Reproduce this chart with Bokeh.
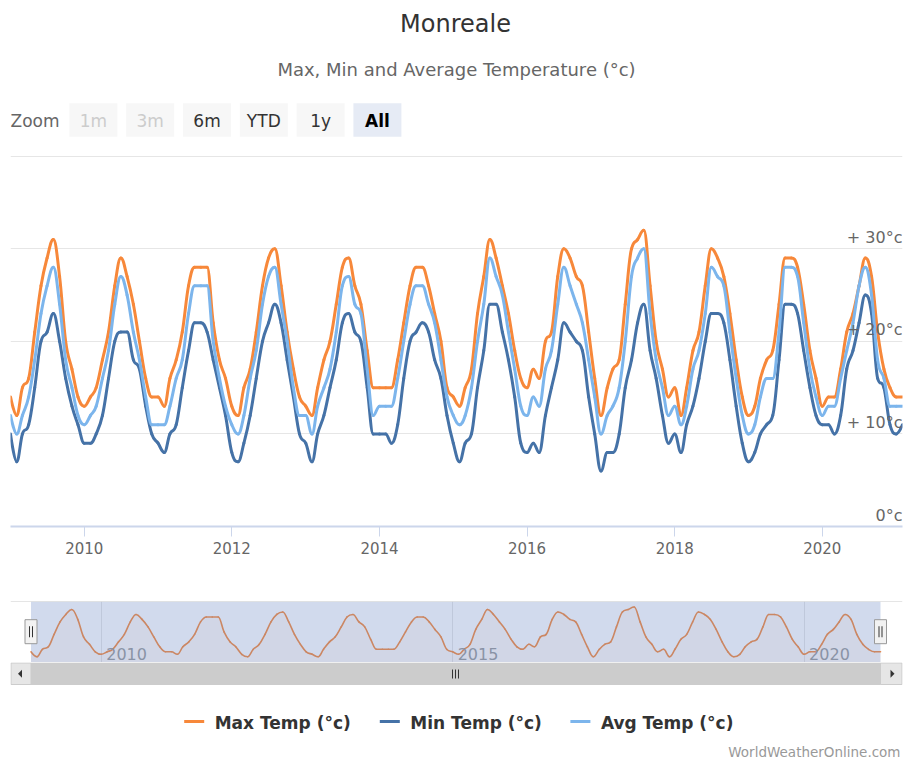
import numpy as np
import pandas as pd
from bokeh.plotting import figure
from bokeh.layouts import column
from bokeh.models import Range1d, FixedTicker, DatetimeTickFormatter, Grid, Span, ColumnDataSource
from bokeh.core.properties import value
from bokeh.embed import file_html
from bokeh.resources import INLINE

# ---------------- data ----------------
title_text = "Monreale"
subtitle_text = "Max, Min and Average Temperature (°c)"
series_names = ["Max Temp (°c)", "Min Temp (°c)", "Avg Temp (°c)"]
series_colors = ["#f7883a", "#4572a7", "#7cb5ec"]
zoom_label = "Zoom"
zoom_buttons = ["1m", "3m", "6m", "YTD", "1y", "All"]
credits_text = "WorldWeatherOnline.com"
start_month = "2009-01-01"

max_temp = [
    14, 12, 15, 16, 21, 26, 29, 31, 27, 20, 17, 14,   # 2009
    13, 14, 15, 18, 21, 26, 29, 27, 24, 20, 16, 14,   # 2010
    14, 13, 16, 18, 21, 26, 28, 28, 28, 22, 18, 16,   # 2011
    13, 12, 15, 17, 21, 26, 29, 30, 26, 21, 17, 14,   # 2012
    13, 12, 15, 18, 20, 24, 28, 29, 26, 24, 19, 15,   # 2013
    15, 15, 15, 18, 22, 26, 28, 28, 26, 23, 20, 15,   # 2014
    14, 13, 15, 17, 23, 27, 31, 29, 26, 23, 19, 16,   # 2015
    15, 17, 16, 20, 21, 27, 30, 29, 27, 26, 21, 16,   # 2016
    12, 15, 17, 18, 24, 30, 31, 32, 26, 20, 17, 14,   # 2017
    15, 12, 15, 19, 21, 26, 30, 29, 27, 23, 18, 14,   # 2018
    12, 13, 16, 18, 19, 24, 29, 29, 28, 24, 19, 16,   # 2019
    13, 14, 14, 17, 21, 23, 26, 29, 27, 21, 17, 15,   # 2020
    14, 14,                                           # 2021
]
min_temp = [
    10, 7, 10, 11, 15, 20, 21, 23, 20, 16, 13, 11,
    9, 9, 10, 12, 16, 20, 21, 21, 18, 17, 13, 10,
    9, 8, 10, 11, 15, 19, 22, 22, 21, 18, 15, 12,
    8, 7, 9, 12, 16, 20, 22, 24, 22, 18, 14, 10,
    9, 7, 10, 12, 15, 18, 22, 23, 21, 20, 15, 10,
    10, 10, 9, 11, 16, 20, 21, 22, 21, 18, 16, 12,
    9, 7, 9, 10, 15, 19, 24, 24, 21, 18, 14, 9,
    8, 9, 8, 12, 15, 18, 22, 21, 20, 19, 14, 10,
    6, 8, 8, 10, 15, 18, 22, 24, 19, 16, 12, 9,
    10, 8, 11, 13, 16, 20, 23, 23, 22, 18, 13, 9,
    7, 8, 10, 11, 12, 18, 24, 24, 23, 19, 15, 12,
    11, 11, 10, 12, 17, 19, 22, 25, 23, 16, 15, 11,
    10, 11,
]
avg_temp = [
    12, 10, 12, 14, 18, 23, 26, 28, 24, 18, 15, 12,
    11, 12, 13, 16, 19, 24, 27, 25, 21, 18, 14, 11,
    11, 11, 13, 16, 18, 23, 26, 26, 26, 20, 16, 13,
    11, 10, 12, 16, 19, 24, 27, 28, 24, 20, 15, 12,
    12, 10, 13, 15, 17, 21, 26, 27, 24, 23, 17, 12,
    13, 13, 13, 16, 20, 24, 26, 26, 24, 22, 18, 14,
    12, 11, 12, 15, 20, 24, 29, 27, 25, 21, 17, 13,
    12, 14, 13, 17, 19, 24, 28, 26, 24, 22, 18, 14,
    10, 12, 13, 15, 20, 27, 29, 30, 23, 18, 15, 12,
    13, 11, 13, 17, 19, 23, 28, 27, 26, 21, 16, 12,
    10, 11, 14, 16, 16, 21, 28, 28, 27, 22, 17, 14,
    12, 13, 13, 16, 19, 22, 26, 28, 25, 18, 16, 13,
    13, 13,
]

axis_years = [2010, 2012, 2014, 2016, 2018, 2020]
nav_years = [2010, 2015, 2020]
y_ticks = [0, 10, 20, 30]
y_tick_labels = ["0°c", "+ 10°c", "+ 20°c", "+ 30°c"]
grid_values = [10, 20, 30, 40]

# ---------------- helpers ----------------
FONT = value("DejaVu Sans")
W = 904
BL, BR = 10, 2          # shared left/right borders (column aligns frames)


def to_ms(ts):
    return pd.Timestamp(ts).value / 1e6


def spline_segments(xs, ys, smoothing=1.5):
    """Cubic bezier control points of a Highcharts-style spline through the data."""
    xs = np.asarray(xs, float)
    ys = np.asarray(ys, float)
    n = len(xs)
    lcx, lcy = xs.copy(), ys.copy()
    rcx, rcy = xs.copy(), ys.copy()
    d = smoothing + 1
    for i in range(1, n - 1):
        px, py = xs[i], ys[i]
        lx, ly = xs[i - 1], ys[i - 1]
        nx, ny = xs[i + 1], ys[i + 1]
        lX = (smoothing * px + lx) / d
        lY = (smoothing * py + ly) / d
        rX = (smoothing * px + nx) / d
        rY = (smoothing * py + ny) / d
        if rX != lX:
            corr = ((rY - lY) * (rX - px)) / (rX - lX) + py - rY
            lY += corr
            rY += corr
        if lY > ly and lY > py:
            lY = max(ly, py)
            rY = 2 * py - lY
        elif lY < ly and lY < py:
            lY = min(ly, py)
            rY = 2 * py - lY
        if rY > ny and rY > py:
            rY = max(ny, py)
            lY = 2 * py - rY
        elif rY < ny and rY < py:
            rY = min(ny, py)
            lY = 2 * py - rY
        lcx[i], lcy[i], rcx[i], rcy[i] = lX, lY, rX, rY
    return dict(x0=xs[:-1], y0=ys[:-1], x1=xs[1:], y1=ys[1:],
                cx0=rcx[:-1], cy0=rcy[:-1], cx1=lcx[1:], cy1=lcy[1:])


dates = pd.date_range(start_month, periods=len(max_temp), freq="MS")
t_ms = np.array([to_ms(d) for d in dates])
t0, t1 = t_ms[0], t_ms[-1]
series = [max_temp, min_temp, avg_temp]


def canvas(h):
    # page-pixel canvas whose frame has the same left/right borders as the charts
    f = figure(width=W, height=h, x_range=Range1d(BL, W - BR), y_range=Range1d(h, 0),
               toolbar_location=None, output_backend="svg",
               x_axis_location=None, y_axis_location=None,
               min_border_left=BL, min_border_right=BR, min_border_top=0,
               min_border_bottom=0, outline_line_color=None)
    f.grid.visible = False
    return f


# ---------------- header ----------------
hdr = canvas(155)
hdr.text(x=[455], y=[23.5], text=[title_text], text_align="center", text_baseline="middle",
         text_font=FONT, text_font_size="24px", text_color="#333333")
hdr.text(x=[456], y=[69], text=[subtitle_text], text_align="center", text_baseline="middle",
         text_font=FONT, text_font_size="18px", text_color="#666666")
hdr.text(x=[10], y=[120.5], text=[zoom_label], text_align="left", text_baseline="middle",
         text_font=FONT, text_font_size="17px", text_color="#666666")
bx = [92.9 + 56.8 * k for k in range(len(zoom_buttons))]
bfill = ["#f7f7f7"] * (len(zoom_buttons) - 1) + ["#e6ebf5"]
bcol = ["#cccccc", "#cccccc", "#333333", "#333333", "#333333", "#000000"]
hdr.rect(x=bx, y=[119.5] * len(bx), width=48, height=33.5, fill_color=bfill, line_color=None)
hdr.text(x=bx[:-1], y=[120.5] * (len(bx) - 1), text=zoom_buttons[:-1], text_align="center",
         text_baseline="middle", text_font=FONT, text_font_size="17px", text_color=bcol[:-1])
hdr.text(x=bx[-1:], y=[120.5], text=zoom_buttons[-1:], text_align="center",
         text_baseline="middle", text_font=FONT, text_font_size="17px", text_color=bcol[-1],
         text_font_style="bold")

# ---------------- main chart ----------------
main = figure(width=W, height=420, x_axis_type="datetime",
              x_range=Range1d(t0, t1), y_range=Range1d(0, 40.08),
              toolbar_location=None, output_backend="svg", y_axis_location=None,
              min_border_left=BL, min_border_right=BR, min_border_top=0, min_border_bottom=49,
              outline_line_color=None)
main.grid.visible = False
main.add_layout(Grid(dimension=1, ticker=FixedTicker(ticks=grid_values),
                     grid_line_color="#e6e6e6", grid_line_width=1))
ax = main.xaxis[0]
ax.ticker = FixedTicker(ticks=[to_ms(f"{y}-01-01") for y in axis_years])
ax.formatter = DatetimeTickFormatter(years="%Y", months="%Y", days="%Y", hours="%Y",
                                     hourmin="%Y", minutes="%Y", minsec="%Y", seconds="%Y",
                                     milliseconds="%Y", microseconds="%Y")
ax.axis_line_color = "#ccd6eb"
ax.axis_line_width = 2
ax.major_tick_line_color = "#ccd6eb"
ax.major_tick_out = 10
ax.major_tick_in = 0
ax.minor_tick_line_color = None
ax.major_label_standoff = 5
ax.major_label_text_font = "DejaVu Sans"
ax.major_label_text_font_size = "15px"
ax.major_label_text_color = "#666666"

for vals, c in zip(series, series_colors):
    main.bezier(source=ColumnDataSource(spline_segments(t_ms, vals)),
                x0="x0", y0="y0", x1="x1", y1="y1", cx0="cx0", cy0="cy0", cx1="cx1", cy1="cy1",
                line_color=c, line_width=3, line_cap="round")

main.text(x=[t1] * len(y_ticks), y=y_ticks, text=y_tick_labels, text_align="right",
          text_baseline="bottom", y_offset=-2, text_font=FONT, text_font_size="16px",
          text_color="#666666")

# ---------------- navigator ----------------
nav_left_px, nav_right_px, frame_w = 20.5, 870.0, W - BL - BR
mpp = (t1 - t0) / (nav_right_px - nav_left_px)
nstart = t0 - nav_left_px * mpp
nend = nstart + frame_w * mpp
ny0, ny1 = 9.7, 34.2
nav = figure(width=W, height=87, x_range=Range1d(nstart, nend), y_range=Range1d(ny0, ny1),
             toolbar_location=None, output_backend="svg",
             x_axis_location=None, y_axis_location=None,
             min_border_top=26, min_border_bottom=0, min_border_left=BL, min_border_right=BR,
             outline_line_color=None)
nav.grid.visible = False
nav_ticks = [to_ms(f"{y}-01-01") for y in nav_years]
nav.add_layout(Grid(dimension=0, ticker=FixedTicker(ticks=nav_ticks),
                    grid_line_color="#e6e6e6", grid_line_width=1))
nav.varea(x=t_ms, y1=[ny0] * len(t_ms), y2=max_temp, fill_color=series_colors[0],
          fill_alpha=0.05)
nav.bezier(source=ColumnDataSource(spline_segments(t_ms, max_temp)),
           x0="x0", y0="y0", x1="x1", y1="y1", cx0="cx0", cy0="cy0", cx1="cx1", cy1="cy1",
           line_color=series_colors[0], line_width=1.6, line_cap="round")
nav.text(x=nav_ticks, y=[ny0] * len(nav_ticks), text=[str(y) for y in nav_years],
         text_align="left", text_baseline="bottom", x_offset=5, y_offset=-3,
         text_font=FONT, text_font_size="16px", text_color="#999999")
nav.quad(left=[t0], right=[t1], bottom=[ny0], top=[ny1], fill_color="#6685c2",
         fill_alpha=0.3, line_color=None)
nav.add_layout(Span(location=ny1, dimension="width", line_color="#cccccc", line_width=1))
hy = ny1 - 30.2 / 61 * (ny1 - ny0)
nav.rect(x=[t0, t1], y=[hy, hy], width=12, height=24, width_units="screen",
         height_units="screen", fill_color="#f2f2f2", line_color="#999999", line_width=1)
gx = [t0 - 1.5 * mpp, t0 + 1.5 * mpp, t1 - 1.5 * mpp, t1 + 1.5 * mpp]
nav.rect(x=gx, y=[hy] * 4, width=1, height=11, width_units="screen", height_units="screen",
         fill_color="#333333", line_color=None)

# ---------------- scrollbar, legend, credits ----------------
ch = canvas(98)
ch.quad(left=[10], right=[902], top=[0], bottom=[22.6], fill_color="#f2f2f2", line_color=None)
ch.quad(left=[30.5], right=[880], top=[0.5], bottom=[22], fill_color="#cccccc",
        line_color="#cccccc")
ch.quad(left=[10.5, 880], right=[30.5, 901.5], top=[0.5, 0.5], bottom=[22, 22],
        fill_color="#e6e6e6", line_color="#cccccc")
ch.patches(xs=[[17.5, 21.5, 21.5], [894, 890, 890]], ys=[[11.3, 7.3, 15.3], [11.3, 7.3, 15.3]],
           fill_color="#333333", line_color=None)
ch.segment(x0=[452, 455, 458], y0=[7, 7, 7], x1=[452, 455, 458], y1=[16, 16, 16],
           line_color="#333333", line_width=1)

leg_line_x = [183.7, 379.3, 569.9]
ch.segment(x0=leg_line_x, y0=[59] * 3, x1=[v + 20 for v in leg_line_x], y1=[59] * 3,
           line_color=series_colors, line_width=3)
ch.text(x=[v + 30.5 for v in leg_line_x], y=[60] * 3, text=series_names, text_align="left",
        text_baseline="middle", text_font=FONT, text_font_size="17px",
        text_font_style="bold", text_color="#333333")
ch.text(x=[900], y=[89], text=[credits_text], text_align="right", text_baseline="middle",
        text_font=FONT, text_font_size="13.5px", text_color="#999999")

layout = column(hdr, main, nav, ch, spacing=0)
open("out.html", "w").write(file_html(layout, INLINE))
